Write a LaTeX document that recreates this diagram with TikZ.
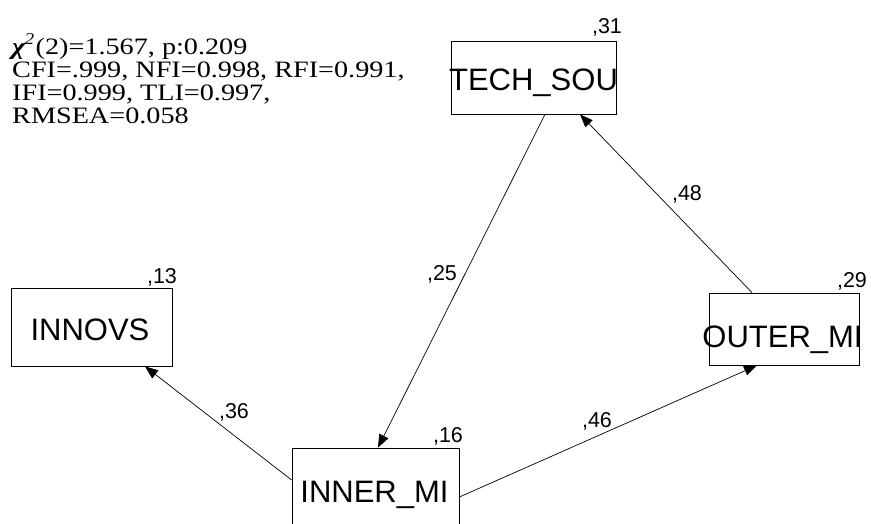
\documentclass[tikz,border=0pt]{standalone}
\usepackage{fontspec}
\setmainfont{Liberation Sans}
\newfontfamily\statfont[FakeStretch=1.2]{Liberation Serif}
\usetikzlibrary{arrows.meta}
\tikzset{
  box/.style={draw=black, line width=0.8pt, inner sep=0pt, fill=none},
  boxtext/.style={anchor=base, inner sep=0pt, font=\fontsize{31}{31}\selectfont},
  coef/.style={anchor=base, inner sep=0pt, font=\fontsize{21.5}{21.5}\selectfont},
  stat/.style={anchor=base west, inner sep=0pt, font=\statfont\fontsize{23.5}{23.5}\selectfont},
  path/.style={draw=black, line width=0.7pt, -{Triangle[length=13pt,width=10pt]}}
}
\begin{document}
\begin{tikzpicture}[x=1pt,y=-1pt]
\useasboundingbox (0,0) rectangle (871,523);
\clip (0,0) rectangle (871,523);
\fill[white] (0,0) rectangle (871,523);
% boxes
\node[box, minimum width=165pt, minimum height=73pt] (tech) at (533.5,77.5) {};
\node[box, minimum width=161pt, minimum height=78pt] (innovs) at (91.5,327) {};
\node[box, minimum width=150pt, minimum height=72pt] (outer) at (784,329) {};
\node[box, minimum width=167pt, minimum height=84pt] (inner) at (375.5,490) {};
% box texts
\node[boxtext] (techt) at (533.5,90) {TECH\_SOU};
\node[boxtext] (innovst) at (90,340) {INNOVS};
\node[boxtext] (outert) at (782.5,347) {OUTER\_MI};
\node[boxtext] (innert) at (374.5,502) {INNER\_MI};
% residual coefficients
\node[coef] (r31) at (607,33) {,31};
\node[coef] (r13) at (162,283) {,13};
\node[coef] (r29) at (852,287) {,29};
\node[coef] (r16) at (448,442) {,16};
% paths
\coordinate (tA) at ([xshift=11.5pt]tech.south);
\coordinate (tB) at ([xshift=46.5pt]tech.south);
\coordinate (iA) at ([xshift=2.5pt]inner.north);
\coordinate (iL) at ([yshift=10pt]inner.west);
\coordinate (iR) at ([yshift=-7pt]inner.east);
\coordinate (nB) at ([xshift=53.5pt]innovs.south);
\coordinate (oT) at ([xshift=-32pt]outer.north);
\coordinate (oB) at ([xshift=-27pt]outer.south);
\draw[path] (tA) -- (iA);
\draw[path] (oT) -- (tB);
\draw[path] (iL) -- (nB);
\draw[path] (iR) -- (oB);
% path coefficients
\node[coef] (c25) at (442,280) {,25};
\node[coef] (c48) at (687,200) {,48};
\node[coef] (c36) at (234,418) {,36};
\node[coef] (c46) at (597,427) {,46};
% fit statistics
\node[stat] (s1) at (12,54) {{\itshape\bfseries χ}\kern-1pt\textsuperscript{\itshape 2}\kern1pt(2)=1.567, p:0.209};
\node[stat] (s2) at (12,77) {CFI=.999, NFI=0.998, RFI=0.991,};
\node[stat] (s3) at (12,100) {IFI=0.999, TLI=0.997,};
\node[stat] (s4) at (12,123) {RMSEA=0.058};
\end{tikzpicture}
\end{document}
